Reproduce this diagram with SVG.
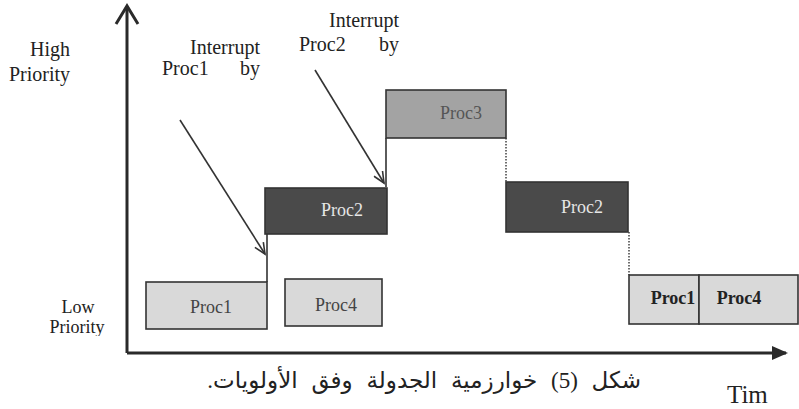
<svg xmlns="http://www.w3.org/2000/svg" width="799" height="409" viewBox="0 0 799 409">
<style>
.t{font-family:"Liberation Serif","Times New Roman",serif;fill:#222}
.lbl{font-size:20px}
.pl{font-family:"Liberation Serif","Times New Roman",serif;font-size:18px;text-anchor:middle}
.box{stroke:#333;stroke-width:1.6}
.light{fill:#d9d9d9}
.mid{fill:#a3a3a3}
.dark{fill:#4a4a4a}
.ax{stroke:#2a2a2a;stroke-width:3;fill:none}
.ln{stroke:#333;stroke-width:1.6;fill:none}
.dot{stroke:#333;stroke-width:1.4;stroke-dasharray:1.5 1.5;fill:none}
</style>
<defs>
<marker id="ah" markerWidth="14" markerHeight="12" refX="12" refY="6" orient="auto" markerUnits="userSpaceOnUse">
<path d="M1,1 L12,6 L1,11" fill="none" stroke="#333" stroke-width="1.6"/>
</marker>
<clipPath id="lowclip"><rect x="0" y="0" width="120" height="336"/></clipPath>
</defs>
<rect width="799" height="409" fill="#fff"/>

<g id="axes">
<path class="ax" d="M127,353 V6"/>
<path class="ax" d="M116,24 L127,6 L138,24"/>
<path class="ax" d="M127,353 H786"/>
<path d="M772,346 L788,353 L772,360 Z" fill="#2a2a2a"/>
</g>

<g id="labels" class="t">
<text class="lbl" x="70" y="56" text-anchor="end">High</text>
<text class="lbl" x="70" y="81" text-anchor="end">Priority</text>
<g clip-path="url(#lowclip)">
<text x="78" y="313" text-anchor="middle" style="font-size:18px">Low</text>
<text x="77" y="333" text-anchor="middle" style="font-size:18px">Priority</text>
</g>
<text x="727" y="403" style="font-size:25px">Tim</text>
<text x="641" y="388" direction="rtl" text-anchor="start" style="font-size:23px;word-spacing:8px;font-family:'Liberation Serif','DejaVu Sans',serif">شكل (5) خوارزمية الجدولة وفق الأولويات.</text>
</g>

<g id="note1" class="t">
<text class="lbl" x="260" y="54" text-anchor="end">Interrupt</text>
<text class="lbl" x="162" y="75">Proc1</text>
<text class="lbl" x="260" y="75" text-anchor="end">by</text>
</g>
<g id="note2" class="t">
<text class="lbl" x="399" y="27" text-anchor="end">Interrupt</text>
<text class="lbl" x="299" y="51">Proc2</text>
<text class="lbl" x="399" y="51" text-anchor="end">by</text>
</g>

<g id="proc1a"><rect class="box light" x="146" y="282" width="121" height="47"/><text class="pl" x="211" y="313" fill="#444">Proc1</text></g>
<g id="proc4a"><rect class="box light" x="285" y="279" width="97" height="47"/><text class="pl" x="336" y="311" fill="#444">Proc4</text></g>
<g id="proc2a"><rect class="box dark" x="265" y="188" width="122" height="46"/><text class="pl" x="342" y="216" fill="#e6e6e6">Proc2</text></g>
<g id="proc3"><rect class="box mid" x="386" y="90" width="120" height="48"/><text class="pl" x="461" y="119" fill="#555">Proc3</text></g>
<g id="proc2b"><rect class="box dark" x="506" y="182" width="122" height="50"/><text class="pl" x="582" y="213" fill="#e6e6e6">Proc2</text></g>
<g id="proc1b"><rect class="box light" x="629" y="275" width="70" height="49"/><text class="pl" x="673" y="304" fill="#222" font-weight="bold">Proc1</text></g>
<g id="proc4b"><rect class="box light" x="699" y="275" width="99" height="49"/><text class="pl" x="739" y="304" fill="#222" font-weight="bold">Proc4</text></g>

<g id="connectors">
<path class="ln" d="M267,282 V234"/>
<path class="ln" d="M386,187 V138"/>
<path class="dot" d="M506,138 V182"/>
<path class="dot" d="M629,232 V275"/>
<path class="ln" d="M180,120 L265,254" marker-end="url(#ah)"/>
<path class="ln" d="M315,70 L384,183" marker-end="url(#ah)"/>
</g>
</svg>
